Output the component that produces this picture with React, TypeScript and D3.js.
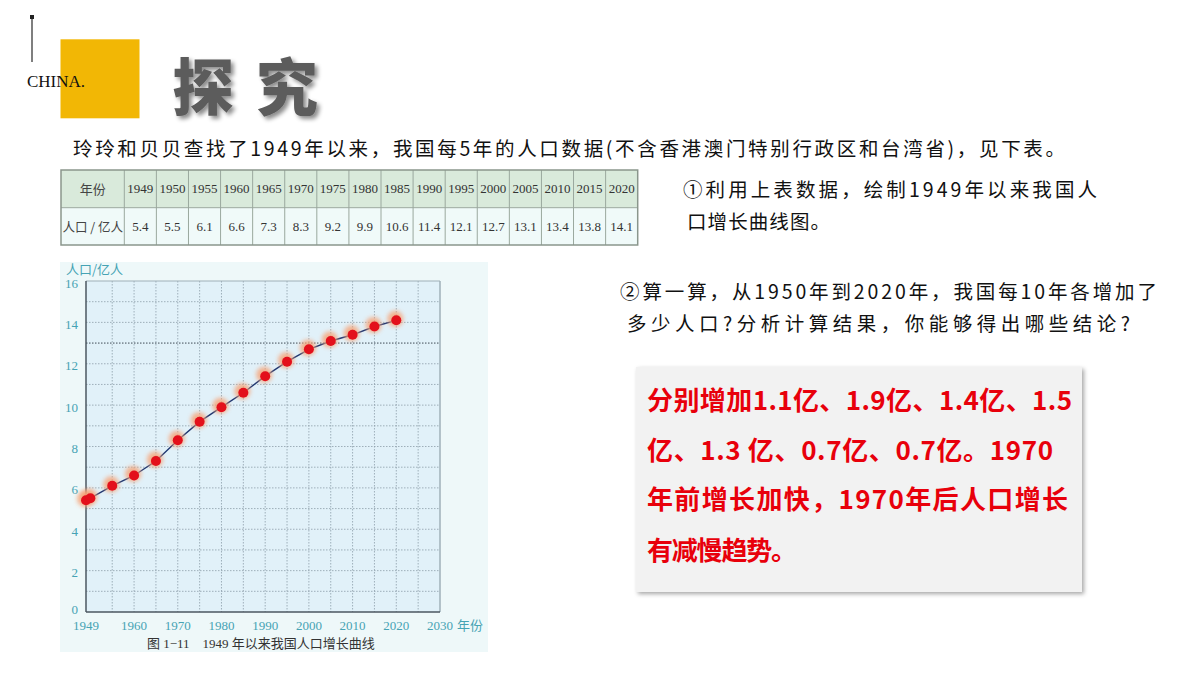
import React from 'react';
import * as d3 from 'd3';

const years = [1949, 1950, 1955, 1960, 1965, 1970, 1975, 1980, 1985, 1990, 1995, 2000, 2005, 2010, 2015, 2020];
const population = [5.4, 5.5, 6.1, 6.6, 7.3, 8.3, 9.2, 9.9, 10.6, 11.4, 12.1, 12.7, 13.1, 13.4, 13.8, 14.1];
const popLabels = ['5.4', '5.5', '6.1', '6.6', '7.3', '8.3', '9.2', '9.9', '10.6', '11.4', '12.1', '12.7', '13.1', '13.4', '13.8', '14.1'];
const xTicks = [1949, 1960, 1970, 1980, 1990, 2000, 2010, 2020, 2030];
const yTicks = [0, 2, 4, 6, 8, 10, 12, 14, 16];
const xGrid = [1955, 1960, 1965, 1970, 1975, 1980, 1985, 1990, 1995, 2000, 2005, 2010, 2015, 2020, 2025];
const yGrid = [1, 2, 3, 4, 5, 6, 7, 8, 9, 10, 11, 12, 13, 14, 15];

const introLine = '玲玲和贝贝查找了1949年以来，我国每5年的人口数据(不含香港澳门特别行政区和台湾省)，见下表。';
const task1 = ['①利用上表数据，绘制1949年以来我国人', '口增长曲线图。'];
const task2 = ['②算一算，从1950年到2020年，我国每10年各增加了', '多少人口?分析计算结果，你能够得出哪些结论?'];
const answer = ['分别增加1.1亿、1.9亿、1.4亿、1.5', '亿、1.3 亿、0.7亿、0.7亿。1970', '年前增长加快，1970年后人口增长', '有减慢趋势。'];

const CJK = '"Noto Sans CJK SC", "Noto Sans", sans-serif';
const SERIF = '"Liberation Serif", "DejaVu Serif", "Noto Sans CJK SC", serif';

export default function App() {
  // chart scales
  const x = d3.scaleLinear().domain([1949, 2030]).range([86, 440]);
  const y = d3.scaleLinear().domain([0, 16]).range([612, 281]);
  const line = d3.line<number>().x((_, i) => x(years[i])).y((d) => y(d));

  // table scales
  const colScale = d3.scaleBand<string>().domain(years.map(String)).range([124.3, 637.7]);
  const tableLeft = 61;
  const rowTop = 170, rowMid = 207.7, rowBottom = 245;

  const tickColor = '#46a3b4';

  return (
    <svg width={1200} height={675} style={{ position: 'absolute', left: 0, top: 0, background: '#fff' }}>
      <defs>
        <filter id="titleShadow" x="-20%" y="-20%" width="140%" height="140%">
          <feDropShadow dx="3" dy="3" stdDeviation="2" floodColor="#000" floodOpacity="0.45" />
        </filter>
        <filter id="boxShadow" x="-10%" y="-10%" width="120%" height="120%">
          <feDropShadow dx="2" dy="2" stdDeviation="2" floodColor="#000" floodOpacity="0.35" />
        </filter>
        <filter id="glow" x="-100%" y="-100%" width="300%" height="300%">
          <feGaussianBlur stdDeviation="2" />
        </filter>
      </defs>
      <rect x={0} y={0} width={1200} height={675} fill="#fff" />

      {/* header decoration */}
      <line x1={32} y1={17} x2={32} y2={62} stroke="#555" strokeWidth={1.5} />
      <rect x={30} y={15} width={4} height={4} fill="#222" />
      <rect x={60.5} y={39.3} width={79} height={79} fill="#f2b705" />
      <text x={27} y={87} fontFamily={SERIF} fontSize={17} fill="#111">CHINA.</text>
      <text x={172} y={84} fontFamily={CJK} fontWeight={900} fontSize={62} fill="#5b5b5b"
        dominantBaseline="central" letterSpacing={22} filter="url(#titleShadow)">探究</text>

      {/* intro */}
      <text x={73} y={147} fontFamily={CJK} fontSize={19.5} fill="#111" dominantBaseline="central"
        textLength={992} lengthAdjust="spacing">{introLine}</text>

      {/* table */}
      <rect x={tableLeft} y={rowTop} width={637.7 - tableLeft} height={rowMid - rowTop} fill="#d9eadb" />
      <rect x={tableLeft} y={rowMid} width={637.7 - tableLeft} height={rowBottom - rowMid} fill="#f0faf9" />
      <line x1={tableLeft} y1={rowMid} x2={637.7} y2={rowMid} stroke="#9aa89e" strokeWidth={1} />
      {years.map((yr) => (
        <line key={'cl' + yr} x1={colScale(String(yr))} y1={rowTop} x2={colScale(String(yr))} y2={rowBottom}
          stroke="#9aa89e" strokeWidth={1} />
      ))}
      <rect x={tableLeft} y={rowTop} width={637.7 - tableLeft} height={rowBottom - rowTop} fill="none" stroke="#8a968c" strokeWidth={1.5} />
      <text x={(tableLeft + 124.3) / 2} y={(rowTop + rowMid) / 2} textAnchor="middle" dominantBaseline="central"
        fontFamily={CJK} fontSize={13} fill="#444">年份</text>
      <text x={(tableLeft + 124.3) / 2} y={(rowMid + rowBottom) / 2} textAnchor="middle" dominantBaseline="central"
        fontFamily={CJK} fontSize={12.5} fill="#444">人口 / 亿人</text>
      {years.map((yr, i) => (
        <g key={'tc' + yr}>
          <text x={(colScale(String(yr)) as number) + colScale.bandwidth() / 2} y={(rowTop + rowMid) / 2}
            textAnchor="middle" dominantBaseline="central" fontFamily={SERIF} fontSize={13} fill="#333">{yr}</text>
          <text x={(colScale(String(yr)) as number) + colScale.bandwidth() / 2} y={(rowMid + rowBottom) / 2}
            textAnchor="middle" dominantBaseline="central" fontFamily={SERIF} fontSize={13} fill="#333">{popLabels[i]}</text>
        </g>
      ))}

      {/* tasks */}
      <text x={683} y={188} fontFamily={CJK} fontSize={19.5} fill="#111" dominantBaseline="central"
        textLength={414} lengthAdjust="spacing">{task1[0]}</text>
      <text x={687} y={220} fontFamily={CJK} fontSize={19.5} fill="#111" dominantBaseline="central"
        textLength={143} lengthAdjust="spacing">{task1[1]}</text>
      <text x={620} y={290} fontFamily={CJK} fontSize={19.5} fill="#111" dominantBaseline="central"
        textLength={537} lengthAdjust="spacing">{task2[0]}</text>
      <text x={627} y={322} fontFamily={CJK} fontSize={19.5} fill="#111" dominantBaseline="central"
        textLength={503} lengthAdjust="spacing">{task2[1]}</text>

      {/* answer box */}
      <rect x={636} y={367} width={446} height={225} fill="#f2f2f2" filter="url(#boxShadow)" />
      {answer.map((t, i) => {
        const widths = [425, 406, 421, 150];
        return (
          <text key={'ans' + i} x={647} y={[398, 448, 497, 548][i]} fontFamily={CJK} fontWeight={700} fontSize={26}
            fill="#e8000b" dominantBaseline="central" textLength={widths[i]} lengthAdjust="spacing">{t}</text>
        );
      })}

      {/* chart image */}
      <rect x={60} y={262} width={428} height={390} fill="#eef8f9" />
      <rect x={86} y={281} width={354} height={331} fill="#e1f1f9" />
      {xGrid.map((g) => (
        <line key={'xg' + g} x1={x(g)} x2={x(g)} y1={281} y2={612} stroke="#8d9ea9" strokeWidth={0.8} strokeDasharray="1.5 1.5" />
      ))}
      {yGrid.map((g) => (
        <line key={'yg' + g} x1={86} x2={440} y1={y(g)} y2={y(g)} stroke={g === 13 ? '#3f4a55' : '#8d9ea9'}
          strokeWidth={g === 13 ? 1 : 0.8} strokeDasharray="1.5 1.5" />
      ))}
      <line x1={86} y1={281} x2={440} y2={281} stroke="#9fb0b8" strokeWidth={1} />
      <line x1={440} y1={281} x2={440} y2={612} stroke="#9fb0b8" strokeWidth={1.5} />
      <line x1={86} y1={281} x2={86} y2={612} stroke="#4b5761" strokeWidth={1.5} />
      <line x1={86} y1={612} x2={440} y2={612} stroke="#4b5761" strokeWidth={1.5} />

      {yTicks.map((t) => (
        <text key={'yt' + t} x={78} y={y(t) + (t === 0 ? -3 : 2)} textAnchor="end" dominantBaseline="central" fontFamily={SERIF}
          fontSize={13} fill={tickColor}>{t}</text>
      ))}
      {xTicks.map((t) => (
        <text key={'xt' + t} x={x(t)} y={625} textAnchor="middle" dominantBaseline="central" fontFamily={SERIF}
          fontSize={13} fill={tickColor}>{t}</text>
      ))}
      <text x={470} y={624} textAnchor="middle" dominantBaseline="central" fontFamily={CJK} fontSize={13} fill={tickColor}>年份</text>
      <text x={66} y={268} dominantBaseline="central" fontFamily={CJK} fontSize={13} fill={tickColor}>人口/亿人</text>
      <text x={147} y={643} dominantBaseline="central" fontFamily={SERIF} fontSize={13} fill="#333">
        图 1−11{'\u00a0\u00a0\u00a0\u00a0'}1949 年以来我国人口增长曲线
      </text>

      <path d={line(population) || ''} fill="none" stroke="#1e3671" strokeWidth={1.4} />
      {population.map((p, i) => (
        <circle key={'gl' + i} cx={x(years[i]) - 1} cy={y(p) - 1.5} r={8} fill="#f7a274" opacity={0.8} filter="url(#glow)" />
      ))}
      {population.map((p, i) => (
        <circle key={'pt' + i} cx={x(years[i])} cy={y(p)} r={5} fill="#e3101b" />
      ))}
    </svg>
  );
}
